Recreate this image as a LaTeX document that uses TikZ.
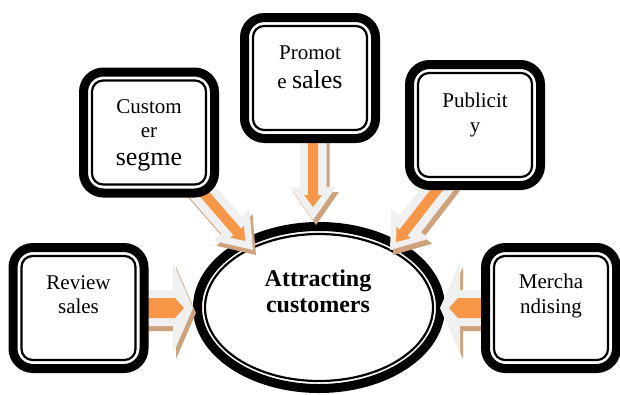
\documentclass[tikz,border=0pt]{standalone}
\usepackage{fontspec}
\setmainfont{Liberation Serif}
\usetikzlibrary{calc,shapes.geometric}
\definecolor{arrgray}{RGB}{240,240,240}
\definecolor{arrtan}{RGB}{205,162,124}
\definecolor{arrorange}{RGB}{247,150,70}
% #1 start, #2 tip, #3 shaft hw, #4 head hw, #5 head len, #6 orange shaft hw, #7 orange head hw, #8 orange head len, #9 orange tip inset
\newcommand\blockarr[9]{%
  \path let \p1=($(#2)-(#1)$) in \pgfextra{\pgfmathsetmacro\arrang{atan2(\y1,\x1)}\pgfmathsetmacro\arrlen{veclen(\x1,\y1)}\global\let\arrang\arrang\global\let\arrlen\arrlen};
  \begin{scope}[shift={($(#1)+(3,5)$)}, rotate=\arrang]
    \fill[arrtan] (0,-#3) -- (\arrlen-#5,-#3) -- (\arrlen-#5,-#4) -- (\arrlen,0) -- (\arrlen-#5,#4) -- (\arrlen-#5,#3) -- (0,#3) -- cycle;
  \end{scope}
  \begin{scope}[shift={(#1)}, rotate=\arrang]
    \fill[arrgray] (0,-#3) -- (\arrlen-#5,-#3) -- (\arrlen-#5,-#4) -- (\arrlen,0) -- (\arrlen-#5,#4) -- (\arrlen-#5,#3) -- (0,#3) -- cycle;
    \fill[arrorange] (0,-#6) -- (\arrlen-#9-#8,-#6) -- (\arrlen-#9-#8,-#7) -- (\arrlen-#9,0) -- (\arrlen-#9-#8,#7) -- (\arrlen-#9-#8,#6) -- (0,#6) -- cycle;
  \end{scope}}
\begin{document}
\begin{tikzpicture}[x=1pt,y=-1pt,
  boxo/.style={draw, fill=white, line width=9pt, rounded corners=20pt, minimum width=131pt, minimum height=121pt, inner sep=0pt, outer sep=0pt},
  boxi/.style={draw, line width=2.2pt, rounded corners=11pt},
  lbl/.style={anchor=base, inner sep=0pt, font=\fontsize{21}{24}\selectfont},
  lblbig/.style={anchor=base, inner sep=0pt, font=\fontsize{26}{30}\selectfont},
  lblbold/.style={anchor=base, inner sep=0pt, font=\fontsize{24}{28}\selectfont\bfseries}]
\useasboundingbox (0,0) rectangle (620,394);
% central ellipse
\node[ellipse, draw, line width=9pt, minimum width=243pt, minimum height=162pt, inner sep=0pt, outer sep=0pt] (E) at (319,307.5) {};
\draw[line width=2.2pt] (E.center) ellipse [x radius=114, y radius=73.5];
% arrow anchor points
\coordinate (aRs) at (140,308); \coordinate (aRt) at (193,308);
\coordinate (aMs) at (490,308); \coordinate (aMt) at (440,308);
\coordinate (aPs) at (313,135); \coordinate (aPt) at (313,220);
\coordinate (aCs) at (194,182); \coordinate (aCt) at (253,250);
\coordinate (aUs) at (446,178); \coordinate (aUt) at (390,250);
\blockarr{aRs}{aRt}{18}{46}{20}{10}{10}{9}{9}
\blockarr{aMs}{aMt}{18}{46}{20}{10}{10}{9}{9}
\blockarr{aPs}{aPt}{13.5}{23}{33}{5}{9}{12}{13}
\blockarr{aCs}{aCt}{13.5}{24}{33}{5}{9}{12}{12}
\blockarr{aUs}{aUt}{13.5}{24}{33}{5}{9}{12}{10}
% boxes
\foreach \n/\p in {R/{(78.5,308)}, C/{(149,132.5)}, P/{(310,78)}, U/{(475,125)}, M/{(551,308)}}{
  \node[boxo] (\n) at \p {};
  \draw[boxi] ($(\n.north west)+(8.5,8.5)$) rectangle ($(\n.south east)+(-8.5,-8.5)$);
}
% texts
\node[lbl] (R1) at (78.5,289) {Review};
\node[lbl] (R2) at (78.5,313) {sales};
\node[lbl] (C1) at (149,113) {Custom};
\node[lbl] (C2) at (149,137) {er};
\node[lblbig] (C3) at (149,165) {segme};
\node[lbl] (P1) at (310,59) {Promot};
\node[lbl] (P2) at (310,88) {e {\fontsize{26}{30}\selectfont sales}};
\node[lbl] (U1) at (475,107) {Publicit};
\node[lbl] (U2) at (475,132) {y};
\node[lbl] (M1) at (551,288) {Mercha};
\node[lbl] (M2) at (551,313) {ndising};
\node[lblbold] (E1) at (318,286) {Attracting};
\node[lblbold] (E2) at (318,312) {customers};
\end{tikzpicture}
\end{document}
